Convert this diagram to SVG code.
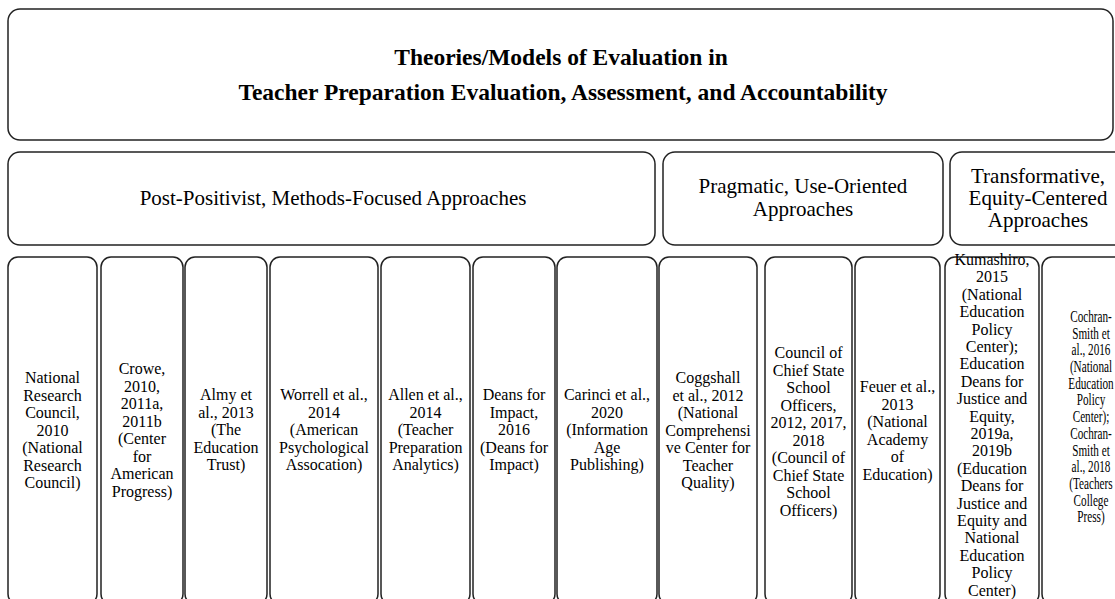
<svg xmlns="http://www.w3.org/2000/svg" width="1115" height="599" viewBox="0 0 1115 599">
<style>
.box{fill:#fff;stroke:#222;stroke-width:1.5}
.t{font-family:"Liberation Serif","Times New Roman",serif;fill:#000;text-anchor:middle}
.title{font-size:23.5px;font-weight:bold}
.hd{font-size:21px}
.col{font-size:16px}
</style>
<rect width="1115" height="599" fill="#fff"/>
<g id="title">
<rect class="box" x="8" y="9" width="1105" height="131" rx="12"/>
<text class="t title" x="561" y="65">Theories/Models of Evaluation in</text>
<text class="t title" x="563" y="100">Teacher Preparation Evaluation, Assessment, and Accountability</text>
</g>
<g id="header-postpositivist">
<rect class="box" x="8" y="152" width="647" height="93" rx="12"/>
<text class="t hd" x="333" y="205">Post-Positivist, Methods-Focused Approaches</text>
</g>
<g id="header-pragmatic">
<rect class="box" x="663" y="152" width="280" height="93" rx="12"/>
<text class="t hd" x="803" y="193">Pragmatic, Use-Oriented<tspan x="803" dy="22.5">Approaches</tspan></text>
</g>
<g id="header-transformative">
<rect class="box" x="950" y="152" width="176" height="93" rx="12"/>
<text class="t hd" x="1038" y="183">Transformative,<tspan x="1038" dy="22">Equity-Centered</tspan><tspan x="1038" dy="22">Approaches</tspan></text>
</g>
<g id="col-nrc">
<rect class="box" x="8" y="257" width="89" height="347" rx="10"/>
<text class="t col" x="52.5" y="383">National<tspan x="52.5" dy="17.5">Research</tspan><tspan x="52.5" dy="17.5">Council,</tspan><tspan x="52.5" dy="17.5">2010</tspan><tspan x="52.5" dy="17.5">(National</tspan><tspan x="52.5" dy="17.5">Research</tspan><tspan x="52.5" dy="17.5">Council)</tspan></text>
</g>
<g id="col-crowe">
<rect class="box" x="101" y="257" width="82" height="347" rx="10"/>
<text class="t col" x="142" y="374">Crowe,<tspan x="142" dy="17.5">2010,</tspan><tspan x="142" dy="17.5">2011a,</tspan><tspan x="142" dy="17.5">2011b</tspan><tspan x="142" dy="17.5">(Center</tspan><tspan x="142" dy="17.5">for</tspan><tspan x="142" dy="17.5">American</tspan><tspan x="142" dy="17.5">Progress)</tspan></text>
</g>
<g id="col-almy">
<rect class="box" x="185" y="257" width="82" height="347" rx="10"/>
<text class="t col" x="226" y="400">Almy et<tspan x="226" dy="17.5">al., 2013</tspan><tspan x="226" dy="17.5">(The</tspan><tspan x="226" dy="17.5">Education</tspan><tspan x="226" dy="17.5">Trust)</tspan></text>
</g>
<g id="col-worrell">
<rect class="box" x="270" y="257" width="108" height="347" rx="10"/>
<text class="t col" x="324" y="400">Worrell et al.,<tspan x="324" dy="17.5">2014</tspan><tspan x="324" dy="17.5">(American</tspan><tspan x="324" dy="17.5">Psychological</tspan><tspan x="324" dy="17.5">Assocation)</tspan></text>
</g>
<g id="col-allen">
<rect class="box" x="381" y="257" width="89" height="347" rx="10"/>
<text class="t col" x="425.5" y="400">Allen et al.,<tspan x="425.5" dy="17.5">2014</tspan><tspan x="425.5" dy="17.5">(Teacher</tspan><tspan x="425.5" dy="17.5">Preparation</tspan><tspan x="425.5" dy="17.5">Analytics)</tspan></text>
</g>
<g id="col-deans">
<rect class="box" x="473" y="257" width="82" height="347" rx="10"/>
<text class="t col" x="514" y="400">Deans for<tspan x="514" dy="17.5">Impact,</tspan><tspan x="514" dy="17.5">2016</tspan><tspan x="514" dy="17.5">(Deans for</tspan><tspan x="514" dy="17.5">Impact)</tspan></text>
</g>
<g id="col-carinci">
<rect class="box" x="557" y="257" width="100" height="347" rx="10"/>
<text class="t col" x="607" y="400">Carinci et al.,<tspan x="607" dy="17.5">2020</tspan><tspan x="607" dy="17.5">(Information</tspan><tspan x="607" dy="17.5">Age</tspan><tspan x="607" dy="17.5">Publishing)</tspan></text>
</g>
<g id="col-coggshall">
<rect class="box" x="659" y="257" width="98" height="347" rx="10"/>
<text class="t col" x="708" y="383">Coggshall<tspan x="708" dy="17.5">et al., 2012</tspan><tspan x="708" dy="17.5">(National</tspan><tspan x="708" dy="17.5">Comprehensi</tspan><tspan x="708" dy="17.5">ve Center for</tspan><tspan x="708" dy="17.5">Teacher</tspan><tspan x="708" dy="17.5">Quality)</tspan></text>
</g>
<g id="col-ccsso">
<rect class="box" x="765" y="257" width="87" height="347" rx="10"/>
<text class="t col" x="808.5" y="358">Council of<tspan x="808.5" dy="17.5">Chief State</tspan><tspan x="808.5" dy="17.5">School</tspan><tspan x="808.5" dy="17.5">Officers,</tspan><tspan x="808.5" dy="17.5">2012, 2017,</tspan><tspan x="808.5" dy="17.5">2018</tspan><tspan x="808.5" dy="17.5">(Council of</tspan><tspan x="808.5" dy="17.5">Chief State</tspan><tspan x="808.5" dy="17.5">School</tspan><tspan x="808.5" dy="17.5">Officers)</tspan></text>
</g>
<g id="col-feuer">
<rect class="box" x="855" y="257" width="85" height="347" rx="10"/>
<text class="t col" x="897.5" y="392">Feuer et al.,<tspan x="897.5" dy="17.5">2013</tspan><tspan x="897.5" dy="17.5">(National</tspan><tspan x="897.5" dy="17.5">Academy</tspan><tspan x="897.5" dy="17.5">of</tspan><tspan x="897.5" dy="17.5">Education)</tspan></text>
</g>
<g id="col-kumashiro">
<rect class="box" x="945" y="257" width="94" height="347" rx="10"/>
<text class="t col" x="992" y="265">Kumashiro,<tspan x="992" dy="17.4">2015</tspan><tspan x="992" dy="17.4">(National</tspan><tspan x="992" dy="17.4">Education</tspan><tspan x="992" dy="17.4">Policy</tspan><tspan x="992" dy="17.4">Center);</tspan><tspan x="992" dy="17.4">Education</tspan><tspan x="992" dy="17.4">Deans for</tspan><tspan x="992" dy="17.4">Justice and</tspan><tspan x="992" dy="17.4">Equity,</tspan><tspan x="992" dy="17.4">2019a,</tspan><tspan x="992" dy="17.4">2019b</tspan><tspan x="992" dy="17.4">(Education</tspan><tspan x="992" dy="17.4">Deans for</tspan><tspan x="992" dy="17.4">Justice and</tspan><tspan x="992" dy="17.4">Equity and</tspan><tspan x="992" dy="17.4">National</tspan><tspan x="992" dy="17.4">Education</tspan><tspan x="992" dy="17.4">Policy</tspan><tspan x="992" dy="17.4">Center)</tspan></text>
</g>
<g id="col-cochran">
<rect class="box" x="1042" y="257" width="100" height="347" rx="10"/>
<text class="t col" transform="translate(1091,0) scale(0.7,1)" x="0" y="322">Cochran-<tspan x="0" dy="16.7">Smith et</tspan><tspan x="0" dy="16.7">al., 2016</tspan><tspan x="0" dy="16.7">(National</tspan><tspan x="0" dy="16.7">Education</tspan><tspan x="0" dy="16.7">Policy</tspan><tspan x="0" dy="16.7">Center);</tspan><tspan x="0" dy="16.7">Cochran-</tspan><tspan x="0" dy="16.7">Smith et</tspan><tspan x="0" dy="16.7">al., 2018</tspan><tspan x="0" dy="16.7">(Teachers</tspan><tspan x="0" dy="16.7">College</tspan><tspan x="0" dy="16.7">Press)</tspan></text>
</g>
<g id="connectors"/>
</svg>
